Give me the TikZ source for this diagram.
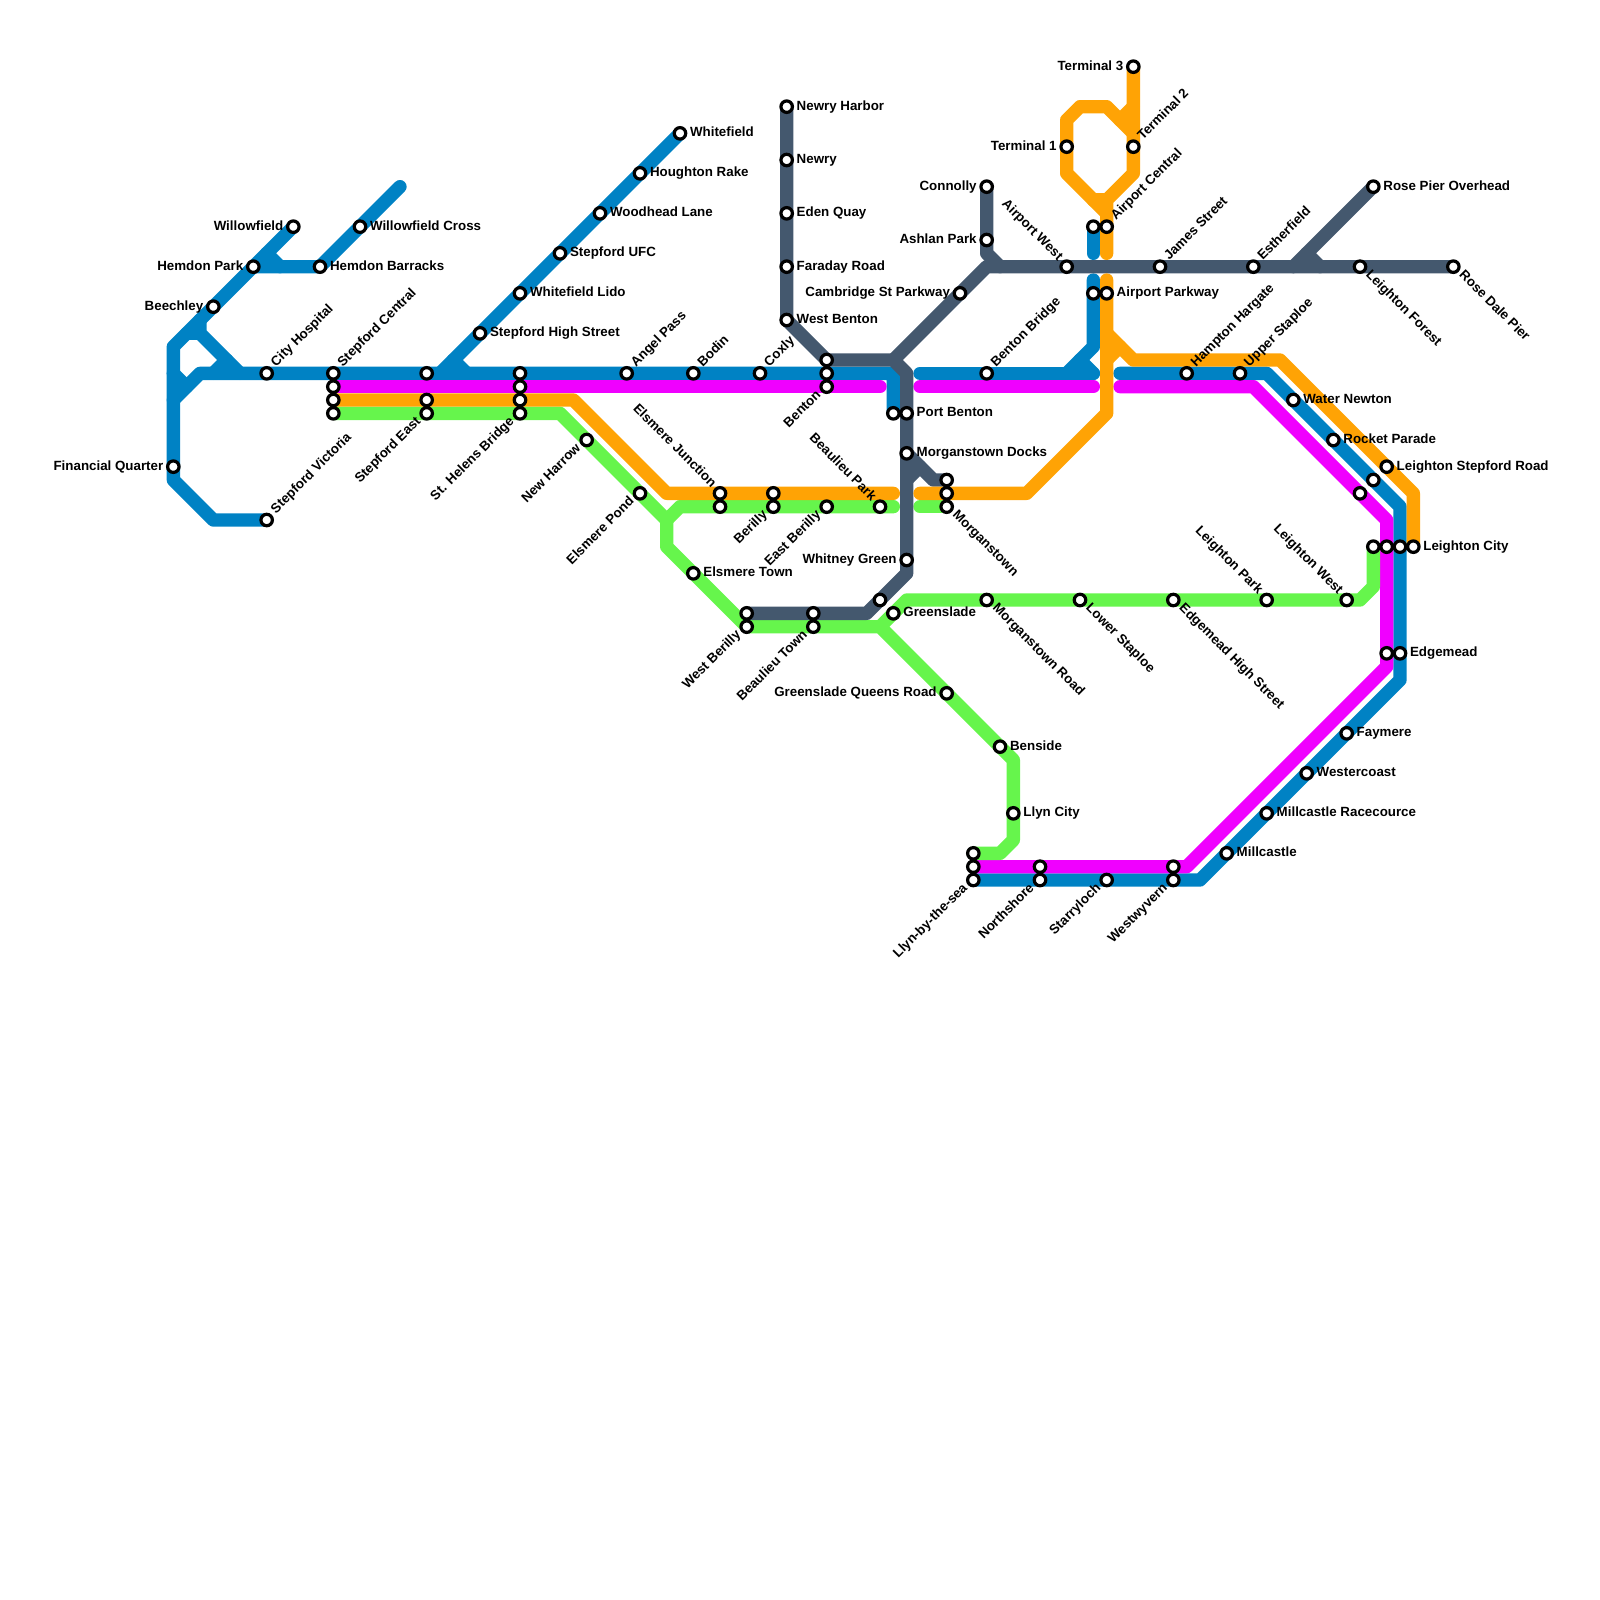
\documentclass[tikz,border=0pt]{standalone}
\usepackage{fontspec}
\setmainfont{Liberation Sans}
\usepackage{xcolor}
\usetikzlibrary{
    backgrounds
}
\definecolor{lineblue}{RGB}{0,130,196}
\definecolor{linepink}{RGB}{240,0,255}
\definecolor{lineorange}{RGB}{255,163,5}
\definecolor{linegreen}{RGB}{102,245,76}
\definecolor{lineslate}{RGB}{68,88,110}

\begin{document}
\begin{tikzpicture}[
    x=5mm,
    y=-5mm,
    stn/.style={
        circle,
        draw=black,
        fill=white,
        line width=1.2mm,
        minimum size=4.3mm,
        inner sep=0pt
    },
    lbl/.style={
        font=\bfseries\fontsize{14.23}{16}\selectfont,
        inner sep=0pt
    },
    track/.style={
        line width=5mm,
        line cap=round,
        line join=round
    }
]

\useasboundingbox (0,0) rectangle (120,120);

\foreach \n/\x/\y in {
    blueA/13/26, blueB/13/36, blueC/16/39, blueD/15/24, blueE/15/25, blueF/18/28,
    blueG/14/25, blueH/30/14, blueI/13/30, blueJ/15/28, blueK/67/28, blueL/33/28,
    blueM/13/28, blueN/14/29, blueO/16/28, blueP/17/27, blueQ/20/19, blueR/21/20,
    blueS/34/27, blueT/35/28, blueU/69/28, blueV/82/28, blueW/82/21, blueX/82/26,
    blueY/80/28, blueZ/81/27, blueAa/82/19, blueAb/84/28, blueAc/95/28,
    blueAd/105/38, blueAe/105/51, blueAf/90/66,
    pinkA/66/29, pinkB/69/29, pinkC/82/29, pinkD/84/29, pinkE/94/29, pinkF/104/39,
    pinkG/104/50, pinkH/89/65,
    orangeA/43/30, orangeB/50/37, orangeC/67/37, orangeD/69/37, orangeE/77/37,
    orangeF/83/31, orangeG/83/21, orangeH/83/25, orangeI/85/27, orangeJ/96/27,
    orangeK/106/37, orangeL/83/27, orangeM/84/26, orangeN/85/13, orangeO/83/15,
    orangeP/83/19, orangeQ/83/16, orangeR/80/13, orangeS/80/9, orangeT/81/8,
    orangeU/83/8, orangeV/85/10, orangeW/82/15, orangeX/84/9, orangeY/85/8,
    greenA/42/31, greenB/50/39, greenC/50/41, greenD/66/47, greenE/76/57,
    greenF/76/63, greenG/75/64, greenH/51/38, greenI/67/38, greenJ/69/38,
    greenK/68/45, greenL/102/45, greenM/103/44,
    slateA/67/27, slateB/68/28, slateC/68/43, slateD/65/46, slateE/74/20,
    slateF/74/19, slateG/75/20, slateH/97/20, slateI/98/19, slateJ/99/20,
    slateK/70/36, slateL/68/36, slateM/69/35
}{
    \coordinate (\n) at (\x,\y);
}

\foreach \n/\x/\y in {
    stepcentP/25/29, stepcentO/25/30, stepcentG/25/31, stepeastB/32/28, stepeastO/32/30,
    helensB/39/28, helensP/39/29, helensO/39/30, bentonS/62/27, bentonB/62/28,
    elsjuncG/54/38, berillyO/58/37, mstownS/71/36, mstownO/71/37,
    llynG/73/64, llynP/73/65, northP/78/65, westwyP/88/65, pbentonB/67/31,
    slateStn/66/45, btownS/61/46, wberillyS/56/46, aparkwayB/82/22, acentralB/82/17,
    lstepB/103/36, lstepP/102/37, lcityG/103/41, lcityP/104/41, lcityB/105/41,
    edgeP/104/49
}{
    \node[stn] (\n) at (\x,\y) {};
}

\foreach \n/\x/\y/\lab in {
    whitefield/51/10/Whitefield, houghton/48/13/Houghton Rake,
    woodhead/45/16/Woodhead Lane, stepufc/42/19/Stepford UFC,
    wlido/39/22/Whitefield Lido, stephigh/36/25/Stepford High Street,
    wcross/27/17/Willowfield Cross, hbarracks/24/20/Hemdon Barracks,
    newryh/59/8/Newry Harbor, newry/59/12/Newry, eden/59/16/Eden Quay,
    faraday/59/20/Faraday Road, wbenton/59/24/West Benton, pbenton/68/31/Port Benton,
    mdocks/68/34/Morganstown Docks, elstown/52/43/Elsmere Town,
    greenslade/67/46/Greenslade, benside/75/56/Benside, llyncity/76/61/Llyn City,
    aparkway/83/22/Airport Parkway, water/97/30/Water Newton, rocket/100/33/Rocket Parade,
    lstep/104/35/Leighton Stepford Road, lcity/106/41/Leighton City,
    edgemead/105/49/Edgemead, faymere/101/55/Faymere, westercoast/98/58/Westercoast,
    racecource/95/61/Millcastle Racecource, millcastle/92/64/Millcastle,
    roseover/103/14/Rose Pier Overhead
}{
    \node[stn] (\n) at (\x,\y) {};
    \node[lbl, anchor=mid west, yshift=-.37mm] (\n-t) at ([shift={(0:3.7mm)}]\n.center) {\lab};
}

\foreach \n/\x/\y/\lab in {
    willowfield/22/17/Willowfield, hpark/19/20/Hemdon Park, beechley/16/23/Beechley,
    finquarter/13/35/Financial Quarter, term3/85/5/Terminal 3, term1/80/11/Terminal 1,
    connolly/74/14/Connolly, ashlan/74/18/Ashlan Park,
    cambridge/72/22/Cambridge St Parkway, whitney/68/42/Whitney Green,
    gqueens/71/52/Greenslade Queens Road
}{
    \node[stn] (\n) at (\x,\y) {};
    \node[lbl, anchor=mid east, yshift=-.37mm] (\n-t) at ([shift={(180:3.7mm)}]\n.center) {\lab};
}

\foreach \n/\x/\y/\lab in {
    cityh/20/28/City Hospital, stepcent/25/28/Stepford Central,
    stepvic/20/39/Stepford Victoria, angel/47/28/Angel Pass,
    bodin/52/28/Bodin, coxly/57/28/Coxly, bbridge/74/28/Benton Bridge,
    term2/85/11/Terminal 2, acentral/83/17/Airport Central, james/87/20/James Street,
    estherfield/94/20/Estherfield, hampton/89/28/Hampton Hargate,
    upper/93/28/Upper Staploe
}{
    \node[stn] (\n) at (\x,\y) {};
    \node[lbl, rotate=45, anchor=mid west] (\n-t) at ([shift={(45:4mm)}]\n.center) {\lab};
}

\foreach \n/\x/\y/\lab in {
    stepeast/32/31/Stepford East, helens/39/31/St. Helens Bridge, newharrow/44/33/New Harrow,
    elspond/48/37/Elsmere Pond, berilly/58/38/Berilly, eberilly/62/38/East Berilly,
    wberilly/56/47/West Berilly, btown/61/47/Beaulieu Town, benton/62/29/Benton,
    llyn/73/66/Llyn-by-the-sea, north/78/66/Northshore, starry/83/66/Starryloch,
    westwy/88/66/Westwyvern
}{
    \node[stn] (\n) at (\x,\y) {};
    \node[lbl, rotate=45, anchor=mid east] (\n-t) at ([shift={(225:3.7mm)}]\n.center) {\lab};
}

\foreach \n/\x/\y/\lab in {
    elsjunc/54/37/Elsmere Junction, bpark/66/38/Beaulieu Park, awest/80/20/Airport West,
    lpark/95/45/Leighton Park, lwest/101/45/Leighton West
}{
    \node[stn] (\n) at (\x,\y) {};
    \node[lbl, rotate=-45, anchor=mid east] (\n-t) at ([shift={(135:3.7mm)}]\n.center) {\lab};
}

\foreach \n/\x/\y/\lab in {
    mstown/71/38/Morganstown, mroad/74/45/Morganstown Road, lstaploe/81/45/Lower Staploe,
    ehigh/88/45/Edgemead High Street, lforest/102/20/Leighton Forest,
    rosedale/109/20/Rose Dale Pier
}{
    \node[stn] (\n) at (\x,\y) {};
    \node[lbl, rotate=-45, anchor=mid west] (\n-t) at ([shift={(-45:3.7mm)}]\n.center) {\lab};
}

\begin{pgfonlayer}{background}
\draw[track,lineblue] (willowfield.center) -- (blueA) -- (blueB) -- (blueC) -- (stepvic.center);
\draw[track,lineblue] (blueD) -- (blueE) -- (blueF);
\draw[track,lineblue] (blueG) -- (blueE);
\draw[track,lineblue] (hpark.center) -- (hbarracks.center) -- (blueH);
\draw[track,lineblue] (blueI) -- (blueJ) -- (blueK) -- (pbentonB.center);
\draw[track,lineblue] (whitefield.center) -- (blueL);
\draw[track,lineblue] (blueM) -- (blueN);
\draw[track,lineblue] (blueO) -- (blueP);
\draw[track,lineblue] (blueQ) -- (blueR);
\draw[track,lineblue] (blueS) -- (blueT);
\draw[track,lineblue] (blueU) -- (blueV);
\draw[track,lineblue] (blueW) -- (blueX) -- (blueY);
\draw[track,lineblue] (blueZ) -- (blueV);
\draw[track,lineblue] (acentralB.center) -- (blueAa);
\draw[track,lineblue] (blueAb) -- (blueAc) -- (blueAd) -- (blueAe) -- (blueAf) -- (llyn.center);

\draw[track,linepink] (stepcentP.center) -- (pinkA);
\draw[track,linepink] (pinkB) -- (pinkC);
\draw[track,linepink] (pinkD) -- (pinkE) -- (pinkF) -- (pinkG) -- (pinkH) -- (llynP.center);

\draw[track,linegreen] (stepcentG.center) -- (greenA) -- (greenB) -- (greenC) -- (wberilly.center) -- (greenD) -- (greenE) -- (greenF) -- (greenG) -- (llynG.center);
\draw[track,linegreen] (greenB) -- (greenH) -- (greenI);
\draw[track,linegreen] (greenJ) -- (mstown.center);
\draw[track,linegreen] (greenD) -- (greenK) -- (greenL) -- (greenM) -- (lcityG.center);

\draw[track,lineslate] (newryh.center) -- (wbenton.center) -- (bentonS.center) -- (slateA) -- (slateB) -- (slateC) -- (slateD) -- (wberillyS.center);
\draw[track,lineslate] (slateA) -- (slateE) -- (rosedale.center);
\draw[track,lineslate] (connolly.center) -- (slateF) -- (slateG);
\draw[track,lineslate] (slateH) -- (roseover.center);
\draw[track,lineslate] (slateI) -- (slateJ);
\draw[track,lineslate] (mdocks.center) -- (slateK) -- (mstownS.center);
\draw[track,lineslate] (slateL) -- (slateM);

\draw[track,lineorange] (stepcentO.center) -- (orangeA) -- (orangeB) -- (orangeC);
\draw[track,lineorange] (orangeD) -- (orangeE) -- (orangeF) -- (orangeG);
\draw[track,lineorange] (orangeH) -- (orangeI) -- (orangeJ) -- (orangeK) -- (lcity.center);
\draw[track,lineorange] (orangeL) -- (orangeM);
\draw[track,lineorange] (term3.center) -- (orangeN) -- (orangeO) -- (orangeP);
\draw[track,lineorange] (orangeQ) -- (orangeR) -- (orangeS) -- (orangeT) -- (orangeU) -- (orangeV);
\draw[track,lineorange] (orangeW) -- (orangeO);
\draw[track,lineorange] (orangeX) -- (orangeY);
\end{pgfonlayer}

\end{tikzpicture}
\end{document}
